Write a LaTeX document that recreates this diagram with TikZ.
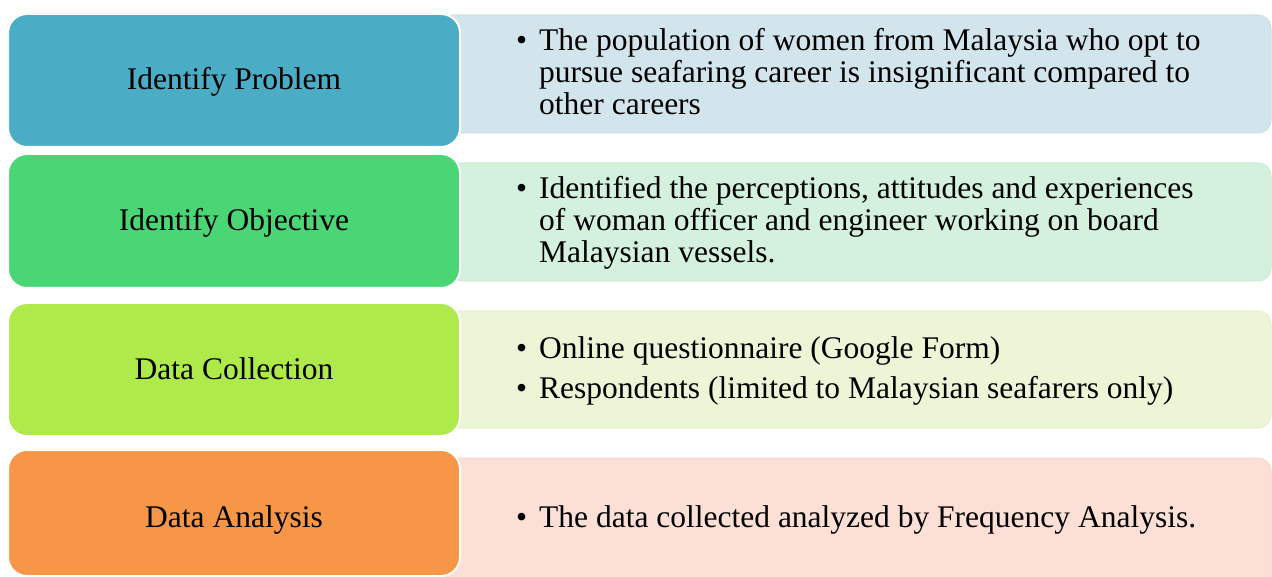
\documentclass[tikz,border=0pt]{standalone}
\usepackage{fontspec}
\setmainfont{Liberation Serif}
\definecolor{lc1}{HTML}{4BACC6}
\definecolor{lc2}{HTML}{4AD675}
\definecolor{lc3}{HTML}{AEEA4A}
\definecolor{lc4}{HTML}{F79646}
\definecolor{rc1}{HTML}{D3E5EC}
\definecolor{rc2}{HTML}{D3F1DC}
\definecolor{rc3}{HTML}{ECF6D6}
\definecolor{rc4}{HTML}{FCDFD5}
\definecolor{rb1}{HTML}{CCDFE7}
\definecolor{rb2}{HTML}{CAECD4}
\definecolor{rb3}{HTML}{E4F1CC}
\definecolor{rb4}{HTML}{F8D6CA}
\newcommand{\bul}{\makebox[23pt][l]{\textbullet}}
\begin{document}
\begin{tikzpicture}[x=1pt,y=-1pt,
  leftbox/.style={draw=white, line width=2pt, rounded corners=19pt},
  rightbox/.style={line width=1pt, rounded corners=13pt},
  lbl/.style={anchor=base, inner sep=0pt, font=\fontsize{31.5}{32}\selectfont},
  txt/.style={anchor=base west, inner sep=0pt, font=\fontsize{31.5}{32}\selectfont}]
\useasboundingbox (0,0) rectangle (1272,577);
\fill[white] (0,0) rectangle (1272,577);
% right boxes
\draw[rightbox, fill=rc1, draw=rb1] (440,15) rectangle (1271,133);
\draw[rightbox, fill=rc2, draw=rb2] (440,163) rectangle (1271,281);
\draw[rightbox, fill=rc3, draw=rb3] (440,311) rectangle (1271,428);
\draw[rightbox, fill=rc4, draw=rb4] (440,458) rectangle (1271,595);
% left boxes
\draw[leftbox, fill=lc1] (8,14) rectangle (460,147);
\draw[leftbox, fill=lc2] (8,154) rectangle (460,288);
\draw[leftbox, fill=lc3] (8,303) rectangle (460,436);
\draw[leftbox, fill=lc4] (8,450) rectangle (460,576);
% left labels
\node[lbl] (p1) at (234,90) {Identify Problem};
\node[lbl] (p2) at (234,231) {Identify Objective};
\node[lbl] (p3) at (234,379) {Data Collection};
\node[lbl] (p4) at (234,527) {Data Analysis};
% right texts
\node[txt] (t1) at (516,51) {\renewcommand{\arraystretch}{1}\begin{tabular}[t]{@{}l@{}l@{}}
\bul & The population of women from Malaysia who opt to\\
 & pursue seafaring career is insignificant compared to\\
 & other careers\end{tabular}};
\node[txt] (t2) at (516,199) {\renewcommand{\arraystretch}{1}\begin{tabular}[t]{@{}l@{}l@{}}
\bul & Identified the perceptions, attitudes and experiences\\
 & of woman officer and engineer working on board\\
 & Malaysian vessels.\end{tabular}};
\node[txt] (t3) at (516,359) {\renewcommand{\arraystretch}{1}\begin{tabular}[t]{@{}l@{}l@{}}
\bul & Online questionnaire (Google Form)\\[8pt]
\bul & Respondents (limited to Malaysian seafarers only)\end{tabular}};
\node[txt] (t4) at (516,527) {\bul The data collected analyzed by Frequency Analysis.};
\end{tikzpicture}
\end{document}
